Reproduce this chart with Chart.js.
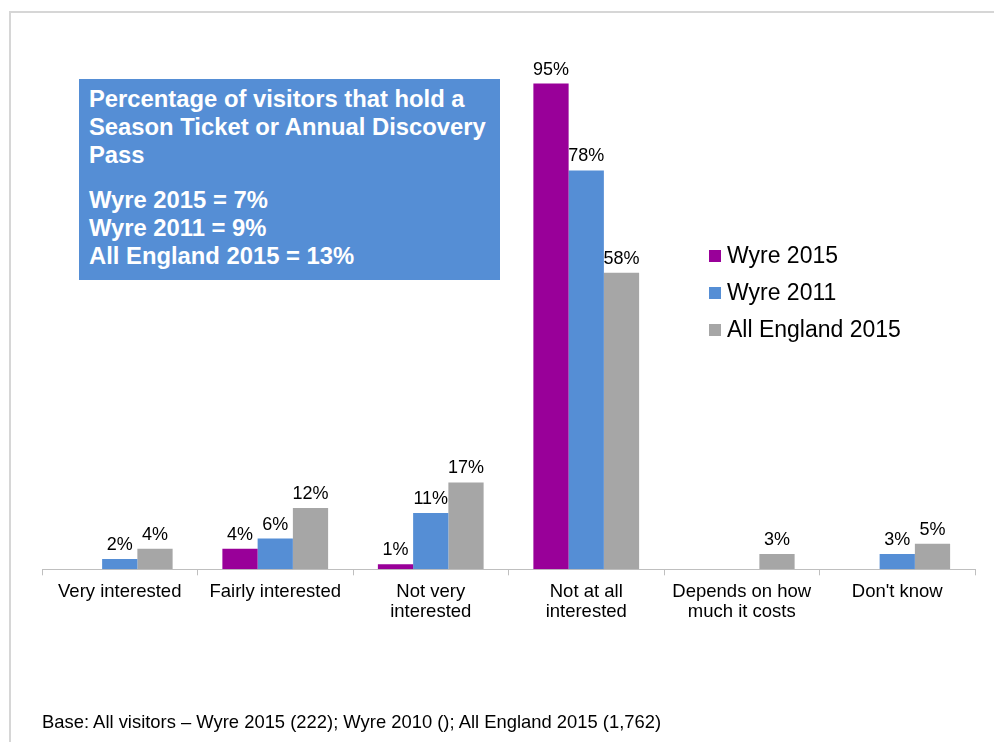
<!DOCTYPE html>
<html>
<head>
<meta charset="utf-8">
<script src="https://cdn.jsdelivr.net/npm/chart.js@4.4.1/dist/chart.umd.min.js"></script>
<style>
  body { margin: 0; background: #fff; font-family: "Liberation Sans", Arial, sans-serif; }
  #wrap { position: relative; width: 994px; height: 742px; overflow: hidden; }
  #frame { position: absolute; left: 9px; top: 11px; width: 1100px; height: 900px;
           border-top: 2px solid #d6d6d6; border-left: 2px solid #d6d6d6; }
  canvas { position: absolute; left: 0; top: 0; }
  #note { position: absolute; left: 79px; top: 79px; width: 411px; height: 195px;
          background: #558ED5; color: #fff; font-weight: bold; font-size: 23.8px;
          line-height: 28px; padding: 6px 0 0 10px; }
  #note p { margin: 0; }
  #note p + p { margin-top: 17px; }
  #legend { position: absolute; left: 709px; top: 237px; font-size: 23px; line-height: 37px; color: #000; }
  #legend .sw { display: inline-block; width: 12px; height: 12px; margin-right: 6px; vertical-align: 1px; }
  #base { position: absolute; left: 42px; top: 711px; font-size: 18.4px; color: #000; white-space: nowrap; }
</style>
</head>
<body>
<div id="wrap">
  <div id="frame"></div>
  <canvas id="interestChart" width="994" height="742"></canvas>
  <div id="note">
    <p>Percentage of visitors that hold a<br>Season Ticket or Annual Discovery<br>Pass</p>
    <p>Wyre 2015 = 7%<br>Wyre 2011 = 9%<br>All England 2015 = 13%</p>
  </div>
  <div id="legend"></div>
  <div id="base">Base: All visitors – Wyre 2015 (222); Wyre 2010 (); All England 2015 (1,762)</div>
</div>
<script>
const categories = [
    ["Very interested"],
    ["Fairly interested"],
    ["Not very", "interested"],
    ["Not at all", "interested"],
    ["Depends on how", "much it costs"],
    ["Don't know"]
];

const wyre2015 = [0, 4, 1, 95, 0, 0];
const wyre2011 = [2, 6, 11, 78, 0, 3];
const allEngland2015 = [4, 12, 17, 58, 3, 5];

const seriesNames = ["Wyre 2015", "Wyre 2011", "All England 2015"];
const seriesColors = ["#990099", "#558ED5", "#A6A6A6"];

// percentage labels above each bar, zero values left blank
const valueLabels = {
    id: "valueLabels",
    afterDatasetsDraw(chart) {
        const c = chart.ctx;
        c.save();
        c.font = "18px 'Liberation Sans', Arial, sans-serif";
        c.fillStyle = "#000";
        c.textAlign = "center";
        c.textBaseline = "alphabetic";
        chart.data.datasets.forEach((ds, i) => {
            chart.getDatasetMeta(i).data.forEach((bar, j) => {
                const v = ds.data[j];
                if (!v) return;
                c.fillText(v + "%", bar.x, bar.y - 9);
            });
        });
        c.restore();
    }
};

const ctx = document.getElementById("interestChart");

const chart = new Chart(ctx, {
    type: "bar",
    data: {
        labels: categories,
        datasets: [wyre2015, wyre2011, allEngland2015].map((d, i) => ({
            label: seriesNames[i],
            data: d,
            backgroundColor: seriesColors[i],
            borderWidth: 0,
            barPercentage: 1,
            categoryPercentage: 0.68
        }))
    },
    options: {
        responsive: false,
        animation: false,
        layout: { padding: { left: 42, right: 19, top: 58, bottom: 114 } },
        plugins: {
            legend: { display: false },
            tooltip: { enabled: false }
        },
        scales: {
            y: { display: false, min: 0, max: 100 },
            x: {
                border: { color: "#bfbfbf", width: 1 },
                grid: { drawOnChartArea: false, drawTicks: true, tickLength: 6, color: "#bfbfbf" },
                ticks: {
                    color: "#000",
                    padding: 6,
                    maxRotation: 0,
                    autoSkip: false,
                    font: { family: "'Liberation Sans', Arial, sans-serif", size: 18.5, lineHeight: 1.1 }
                }
            }
        }
    },
    plugins: [valueLabels]
});

// legend built from the chart's datasets
document.getElementById("legend").innerHTML = chart.data.datasets.map(ds =>
    `<div><span class="sw" style="background:${ds.backgroundColor}"></span>${ds.label}</div>`
).join("");
</script>
</body>
</html>
